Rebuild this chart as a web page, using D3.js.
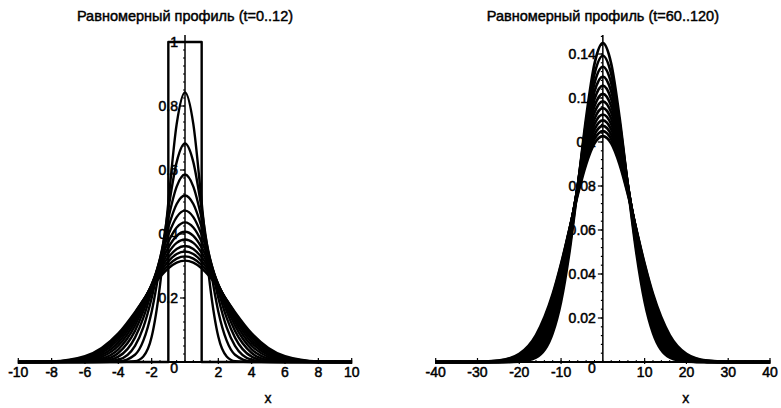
<!DOCTYPE html>
<html>
<head>
<meta charset="utf-8">
<script src="https://cdn.jsdelivr.net/npm/d3@7"></script>
<style>
  html, body { margin: 0; padding: 0; background: #fff; }
  svg { display: block; }
  text { font-family: "Liberation Sans", Arial, sans-serif; fill: #000; }
</style>
</head>
<body>
<svg id="chart" width="781" height="408"></svg>
<script>
// ---- Heat-equation profiles, u(x,t), for a uniform initial step on |x| < 1 ----

// Left panel: t = 0..12
const leftTitle = "Равномерный профиль (t=0..12)";
const leftTimes = [1, 2, 3, 4, 5, 6, 7, 8, 9, 10, 11, 12];
// half-profile sample positions (x >= 0); profiles are even in x
const leftX = [0, 0.5, 1, 1.5, 2, 2.5, 3, 4, 5, 6, 8, 10];
const leftU = [
  [0.8427, 0.7433, 0.4977, 0.2396, 0.0786, 0.0170, 0.0023, 0,      0,      0,      0,      0],
  [0.6827, 0.6247, 0.4773, 0.3023, 0.1573, 0.0666, 0.0227, 0.0014, 0,      0,      0,      0],
  [0.5858, 0.5481, 0.4488, 0.3209, 0.2000, 0.1082, 0.0507, 0.0071, 0.0006, 0,      0,      0],
  [0.5205, 0.4938, 0.4214, 0.3233, 0.2228, 0.1378, 0.0763, 0.0167, 0.0023, 0.0002, 0,      0],
  [0.4729, 0.4527, 0.3971, 0.3190, 0.2347, 0.1580, 0.0973, 0.0281, 0.0056, 0.0008, 0,      0],
  [0.4363, 0.4204, 0.3759, 0.3120, 0.2402, 0.1716, 0.1137, 0.0397, 0.0102, 0.0019, 0,      0],
  [0.4070, 0.3940, 0.3575, 0.3039, 0.2421, 0.1807, 0.1263, 0.0507, 0.0156, 0.0037, 0.0001, 0],
  [0.3829, 0.3721, 0.3413, 0.2956, 0.2417, 0.1866, 0.1359, 0.0606, 0.0214, 0.0060, 0.0002, 0],
  [0.3626, 0.3534, 0.3271, 0.2875, 0.2400, 0.1903, 0.1432, 0.0694, 0.0273, 0.0087, 0.0005, 0],
  [0.3453, 0.3373, 0.3145, 0.2798, 0.2375, 0.1924, 0.1487, 0.0772, 0.0332, 0.0118, 0.0008, 0],
  [0.3302, 0.3232, 0.3031, 0.2724, 0.2345, 0.1934, 0.1528, 0.0839, 0.0388, 0.0151, 0.0014, 0.0001],
  [0.3169, 0.3107, 0.2929, 0.2654, 0.2312, 0.1936, 0.1559, 0.0897, 0.0441, 0.0185, 0.0020, 0.0001]
];
// initial step profile at t = 0
const stepX = [-10, -1, -1, 1, 1, 10];
const stepU = [0, 0, 1, 1, 0, 0];
const leftXTicks = [-10, -8, -6, -4, -2, 2, 4, 6, 8, 10];
const leftYTicks = [0.2, 0.4, 0.6, 0.8, 1];
const leftYTickLabels = ["0.2", "0.4", "0.6", "0.8", "1"];

// Right panel: t = 60..120
const rightTitle = "Равномерный профиль (t=60..120)";
const rightTimes = [60, 65, 70, 75, 80, 85, 90, 95, 100, 105, 110, 115, 120];
const rightX = [0, 2, 4, 6, 8, 10, 12, 16, 20, 25, 30, 40];
const rightU = [
  [0.1449, 0.1355, 0.1110, 0.0795, 0.0499, 0.0274, 0.0131, 0.0020, 0.0002, 0,      0,      0],
  [0.1392, 0.1309, 0.1089, 0.0800, 0.0520, 0.0299, 0.0152, 0.0027, 0.0003, 0,      0,      0],
  [0.1342, 0.1268, 0.1068, 0.0803, 0.0538, 0.0322, 0.0172, 0.0035, 0.0004, 0,      0,      0],
  [0.1297, 0.1230, 0.1048, 0.0803, 0.0553, 0.0342, 0.0190, 0.0043, 0.0006, 0,      0,      0],
  [0.1256, 0.1195, 0.1029, 0.0801, 0.0565, 0.0360, 0.0208, 0.0051, 0.0008, 0.0001, 0,      0],
  [0.1219, 0.1163, 0.1010, 0.0798, 0.0574, 0.0376, 0.0224, 0.0060, 0.0011, 0.0001, 0,      0],
  [0.1185, 0.1134, 0.0992, 0.0794, 0.0582, 0.0390, 0.0239, 0.0069, 0.0014, 0.0001, 0,      0],
  [0.1154, 0.1106, 0.0975, 0.0790, 0.0588, 0.0403, 0.0253, 0.0078, 0.0017, 0.0002, 0,      0],
  [0.1125, 0.1081, 0.0958, 0.0785, 0.0593, 0.0414, 0.0266, 0.0087, 0.0021, 0.0002, 0,      0],
  [0.1098, 0.1057, 0.0943, 0.0779, 0.0597, 0.0424, 0.0279, 0.0096, 0.0024, 0.0003, 0,      0],
  [0.1073, 0.1034, 0.0927, 0.0773, 0.0600, 0.0432, 0.0290, 0.0105, 0.0028, 0.0004, 0,      0],
  [0.1049, 0.1013, 0.0913, 0.0767, 0.0601, 0.0440, 0.0300, 0.0113, 0.0032, 0.0005, 0,      0],
  [0.1027, 0.0994, 0.0899, 0.0761, 0.0603, 0.0446, 0.0309, 0.0122, 0.0037, 0.0006, 0.0001, 0]
];
const rightXTicks = [-40, -30, -20, -10, 10, 20, 30, 40];
const rightYTicks = [0.02, 0.04, 0.06, 0.08, 0.1, 0.12, 0.14];
const rightYTickLabels = ["0.02", "0.04", "0.06", "0.08", "0.1", "0.12", "0.14"];

const axisTitle = "x";

// ---- drawing ----
const svg = d3.select("#chart");

// mirror an even half-profile to the full symmetric curve
function fullProfile(xs, us) {
  const left = [];
  for (let i = xs.length - 1; i > 0; i--) left.push([-xs[i], us[i]]);
  const right = xs.map((v, i) => [v, us[i]]);
  return left.concat(right);
}

function drawPanel(cfg) {
  const g = svg.append("g");
  const x = d3.scaleLinear().domain(cfg.xDomain).range(cfg.xRange);
  const y = d3.scaleLinear().domain(cfg.yDomain).range(cfg.yRange);
  const x0 = x(0), y0 = y(0);

  // title
  g.append("text")
    .attr("x", x0).attr("y", 21)
    .attr("text-anchor", "middle")
    .attr("font-size", 14.5)
    .attr("stroke", "#000").attr("stroke-width", 0.45)
    .text(cfg.title);

  // x axis line
  g.append("line")
    .attr("x1", x(cfg.xDomain[0])).attr("x2", x(cfg.xDomain[1]))
    .attr("y1", y0).attr("y2", y0)
    .attr("stroke", "#000").attr("stroke-width", 2);

  // x minor + major ticks
  g.selectAll(".xminor").data(d3.range(cfg.xDomain[0], cfg.xDomain[1] + 1e-9, cfg.xMinor))
    .join("line")
    .attr("x1", d => x(d)).attr("x2", d => x(d))
    .attr("y1", y0 - 2).attr("y2", y0 + 1)
    .attr("stroke", "#000").attr("stroke-width", 1);
  g.selectAll(".xmajor").data(cfg.xTicks)
    .join("line")
    .attr("x1", d => x(d)).attr("x2", d => x(d))
    .attr("y1", y0 - 4).attr("y2", y0 + 2)
    .attr("stroke", "#000").attr("stroke-width", 1.2);

  // x tick labels (plain hyphen for negatives)
  g.selectAll(".xlab").data(cfg.xTicks)
    .join("text")
    .attr("x", d => x(d)).attr("y", y0 + 15)
    .attr("text-anchor", "middle")
    .attr("font-size", 14)
    .attr("stroke", "#000").attr("stroke-width", 0.5)
    .text(d => String(d));
  g.append("text")
    .attr("x", x0 - 7).attr("y", y0 + 11)
    .attr("text-anchor", "end")
    .attr("font-size", 14)
    .attr("stroke", "#000").attr("stroke-width", 0.5)
    .text("0");

  // x axis title
  g.append("text")
    .attr("x", x0 + 83).attr("y", 403)
    .attr("text-anchor", "middle")
    .attr("font-size", 14)
    .attr("stroke", "#000").attr("stroke-width", 0.4)
    .text(axisTitle);

  // y axis line
  g.append("line")
    .attr("x1", x0).attr("x2", x0)
    .attr("y1", y0).attr("y2", 35)
    .attr("stroke", "#000").attr("stroke-width", 1.5);

  // y minor + major ticks
  const yMax = y.invert(36);
  g.selectAll(".yminor").data(d3.range(cfg.yMinor, yMax, cfg.yMinor))
    .join("line")
    .attr("x1", x0 - 2).attr("x2", x0)
    .attr("y1", d => y(d)).attr("y2", d => y(d))
    .attr("stroke", "#000").attr("stroke-width", 1.2);
  g.selectAll(".ymajor").data(cfg.yTicks)
    .join("line")
    .attr("x1", x0 - 5).attr("x2", x0)
    .attr("y1", d => y(d)).attr("y2", d => y(d))
    .attr("stroke", "#000").attr("stroke-width", 1.2);

  // y tick labels (drawn beneath the curves)
  g.selectAll(".ylab").data(cfg.yTicks)
    .join("text")
    .attr("x", x0 - 7).attr("y", d => y(d) + 5)
    .attr("text-anchor", "end")
    .attr("font-size", 14)
    .attr("stroke", "#000").attr("stroke-width", 0.5)
    .text((d, i) => cfg.yLabels[i]);

  // curves
  const line = d3.line()
    .x(d => x(d[0])).y(d => y(d[1]))
    .curve(d3.curveMonotoneX);

  const curves = g.append("g")
    .attr("fill", "none").attr("stroke", "#000")
    .attr("stroke-width", cfg.lineWidth)
    .attr("stroke-linejoin", "round");

  if (cfg.step) {
    curves.append("path")
      .attr("d", d3.line().x(d => x(d[0])).y(d => y(d[1]))(cfg.step));
  }
  cfg.profiles.forEach(us => {
    curves.append("path").attr("d", line(fullProfile(cfg.xs, us)));
  });
}

drawPanel({
  title: leftTitle,
  xDomain: [-10, 10], xRange: [18.3, 351.7],
  yDomain: [0, 1], yRange: [362, 42],
  xTicks: leftXTicks, xMinor: 0.5,
  yTicks: leftYTicks, yLabels: leftYTickLabels, yMinor: 0.025,
  xs: leftX, profiles: leftU,
  step: stepX.map((v, i) => [v, stepU[i]]),
  lineWidth: 2.4
});

drawPanel({
  title: rightTitle,
  xDomain: [-40, 40], xRange: [435.7, 770],
  yDomain: [0, 0.14], yRange: [362, 54],
  xTicks: rightXTicks, xMinor: 2,
  yTicks: rightYTicks, yLabels: rightYTickLabels, yMinor: 0.004,
  xs: rightX, profiles: rightU,
  lineWidth: 2.7
});
</script>
</body>
</html>
